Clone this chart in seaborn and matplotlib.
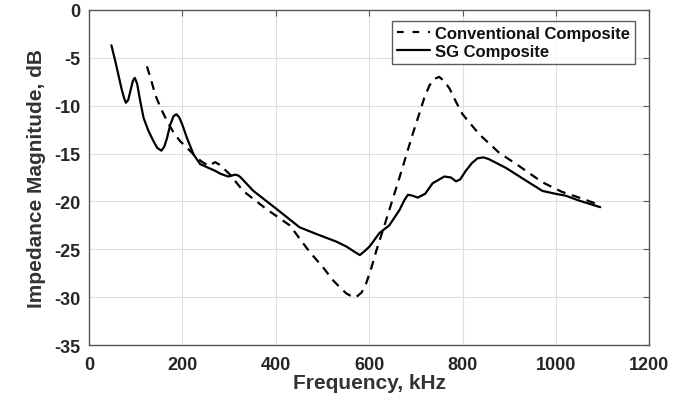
import matplotlib
matplotlib.use("Agg")
import matplotlib.pyplot as plt
import seaborn as sns
import pandas as pd

# SG Composite (solid)
sg_freq = [48, 56, 63, 70, 75, 79, 84, 89, 94, 98, 103, 110, 117, 127, 138, 146,
           155, 161, 167, 174, 181, 187, 193, 200, 210, 224, 238, 256, 270, 281,
           298, 306, 313, 320, 325, 352, 402, 451, 487, 530, 551, 570, 580, 590,
           601, 622, 643, 665, 675, 683, 693, 704, 720, 736, 761, 775, 786, 795,
           807, 820, 832, 845, 857, 893, 935, 971, 999, 1021, 1049, 1095]
sg_db = [-3.7, -5.3, -6.8, -8.3, -9.2, -9.7, -9.4, -8.4, -7.4, -7.1, -7.7, -9.6,
         -11.3, -12.6, -13.7, -14.4, -14.7, -14.3, -13.4, -12.0, -11.1, -10.9,
         -11.2, -12.0, -13.4, -15.1, -16.1, -16.5, -16.8, -17.1, -17.4, -17.3,
         -17.2, -17.3, -17.5, -18.9, -20.8, -22.7, -23.4, -24.2, -24.7, -25.3,
         -25.6, -25.2, -24.7, -23.3, -22.5, -20.9, -19.9, -19.3, -19.4, -19.6,
         -19.2, -18.1, -17.4, -17.5, -17.9, -17.7, -16.8, -16.0, -15.5, -15.4,
         -15.6, -16.5, -17.8, -18.9, -19.2, -19.4, -19.9, -20.6]

# Conventional Composite (dashed)
cv_freq = [124, 133, 142, 155, 167, 181, 195, 210, 224, 240, 256, 263, 270, 281,
           302, 330, 380, 430, 473, 500, 522, 540, 551, 562, 572, 584, 594, 605,
           615, 636, 665, 693, 707, 718, 729, 740, 750, 760, 772, 786, 800, 836,
           878, 921, 971, 1013, 1056, 1095]
cv_db = [-5.9, -7.3, -8.9, -10.4, -11.6, -12.8, -13.7, -14.4, -15.1, -15.8, -16.3,
         -16.1, -15.9, -16.2, -17.2, -18.9, -20.8, -22.5, -25.3, -26.8, -28.2,
         -29.1, -29.6, -29.9, -30.0, -29.5, -28.5, -26.9, -25.2, -22.0, -17.5,
         -13.0, -10.9, -9.2, -7.9, -7.2, -7.0, -7.4, -8.2, -9.6, -10.9, -13.0,
         -14.9, -16.3, -18.0, -19.0, -19.7, -20.4]

x_ticks = [0, 200, 400, 600, 800, 1000, 1200]
y_ticks = [0, -5, -10, -15, -20, -25, -30, -35]

sns.set_style("white")
plt.rcParams['font.family'] = ['Liberation Sans', 'DejaVu Sans']
plt.rcParams['axes.unicode_minus'] = False

fig = plt.figure(figsize=(6.9, 4.02), dpi=100)
ax = fig.add_axes([0.129, 0.139, 0.812, 0.834])

cv = pd.DataFrame({"f": cv_freq, "db": cv_db})
sg = pd.DataFrame({"f": sg_freq, "db": sg_db})

sns.lineplot(data=cv, x="f", y="db", ax=ax, color="black", linewidth=1.6,
             label="Conventional Composite", sort=False)
sns.lineplot(data=sg, x="f", y="db", ax=ax, color="black", linewidth=1.6,
             label="SG Composite", sort=False)
ax.lines[0].set_dashes((4, 3))

ax.set_xlim(0, 1200)
ax.set_ylim(-35, 0)
ax.set_xticks(x_ticks)
ax.set_yticks(y_ticks)
ax.grid(True, color="#dedede", linewidth=0.8)
ax.set_axisbelow(True)
for s in ax.spines.values():
    s.set_color("#555555")
    s.set_linewidth(1.0)
ax.tick_params(direction="in", length=4, width=0.8, color="#555555",
               top=True, right=True, labelsize=13, labelcolor="#262626")
ax.tick_params(axis="x", pad=8)
ax.tick_params(axis="y", pad=6)
for lab in ax.get_xticklabels() + ax.get_yticklabels():
    lab.set_fontweight("bold")

ax.set_xlabel("Frequency, kHz", fontsize=15, fontweight="bold", color="#333333", labelpad=0)
ax.set_ylabel("Impedance Magnitude, dB", fontsize=15, fontweight="bold", color="#333333", labelpad=6)

leg = ax.legend(loc="upper right", bbox_to_anchor=(0.975, 0.967), fancybox=False,
                frameon=True, prop={"weight": "bold", "size": 12},
                handlelength=2.0, handletextpad=0.3, borderpad=0.3, labelspacing=0.2,
                borderaxespad=0)
leg.get_frame().set_edgecolor("#333333")
leg.get_frame().set_linewidth(1.0)
leg.get_lines()[0].set_dashes((3, 4))
for t in leg.get_texts():
    t.set_color("#111111")

fig.savefig("out.png", dpi=100)
